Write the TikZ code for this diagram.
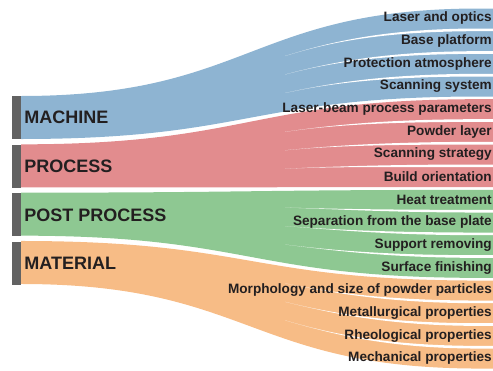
\documentclass[tikz,border=0pt]{standalone}
\usepackage{fontspec}
\setmainfont{Liberation Sans}
\usepackage{tikz}
\usetikzlibrary{positioning}
\definecolor{machine-blue}{HTML}{8EB4D2}
\definecolor{process-red}{HTML}{E28C8E}
\definecolor{post-green}{HTML}{8EC892}
\definecolor{material-orange}{HTML}{F7BC86}
\definecolor{bargrey}{HTML}{626262}
\definecolor{textdark}{HTML}{231F20}

\begin{document}
\begin{tikzpicture}[
  x=1pt, y=-1pt,
  catbar/.style={fill=bargrey, inner sep=0pt, minimum width=9pt, minimum height=43pt},
  cat/.style={inner sep=0pt, anchor=west, text=textdark, font=\bfseries\fontsize{18}{18}\selectfont},
  item/.style={inner sep=0pt, anchor=east, text=textdark, font=\bfseries\fontsize{13.6}{14}\selectfont}
]
  \useasboundingbox (0,0) rectangle (493,370);

  % flows: one band per category, then white slits between its four branches
  \foreach \g/\col in {0/machine-blue,1/process-red,2/post-green,3/material-orange} {
    \pgfmathsetmacro\lt{96+48.33*\g}
    \pgfmathsetmacro\lb{\lt+43}
    \pgfmathsetmacro\rt{8.5+90.68*\g}
    \pgfmathsetmacro\rb{\rt+88}
    \fill[\col] (21,\lt) .. controls (250,\lt) and (250,\rt) .. (480,\rt)
      -- (493,\rt) -- (493,\rb) -- (480,\rb)
      .. controls (250,\rb) and (250,\lb) .. (21,\lb) -- cycle;
    \foreach \j in {0,1,2} {
      \pgfmathsetmacro\a{\lt+10.75*(\j+1)}
      \pgfmathsetmacro\b{\rt+22.67*\j+20}
      \pgfmathsetmacro\c{\b+2.67}
      \pgfmathsetmacro\s{\a+0.648*(\b-\a)}
      \pgfmathsetmacro\q{0.16*\a+0.84*\b}
      \fill[white] (285,\s) .. controls (332.8,\q) and (388,\b) .. (480,\b)
        -- (493,\b) -- (493,\c) -- (480,\c)
        .. controls (388,\c) and (332.8,\q) .. (285,\s) -- cycle;
    }
  }

  % category bars and names
  \node[catbar] (machine) at (16.5,117.5) {};
  \node[catbar, below=5.33pt of machine] (process) {};
  \node[catbar, below=5.33pt of process] (postproc) {};
  \node[catbar, below=5.33pt of postproc] (material) {};
  \node[cat, right=3pt of machine] (machine-lbl) {MACHINE};
  \node[cat, right=3pt of process] (process-lbl) {PROCESS};
  \node[cat, right=3pt of postproc] (postproc-lbl) {POST PROCESS};
  \node[cat, right=3pt of material] (material-lbl) {MATERIAL};

  % factor names on the right
  \foreach \k/\txt in {0/Laser and optics, 1/Base platform, 2/Protection atmosphere,
      3/Scanning system, 4/Laser-beam process parameters, 5/Powder layer,
      6/Scanning strategy, 7/Build orientation, 8/Heat treatment,
      9/Separation from the base plate, 10/Support removing, 11/Surface finishing,
      12/Morphology and size of powder particles, 13/Metallurgical properties,
      14/Rheological properties, 15/Mechanical properties} {
    \pgfmathsetmacro\yc{18.2+22.67*\k}
    \node[item] (factor\k) at (492,\yc) {\txt};
  }
\end{tikzpicture}
\end{document}
